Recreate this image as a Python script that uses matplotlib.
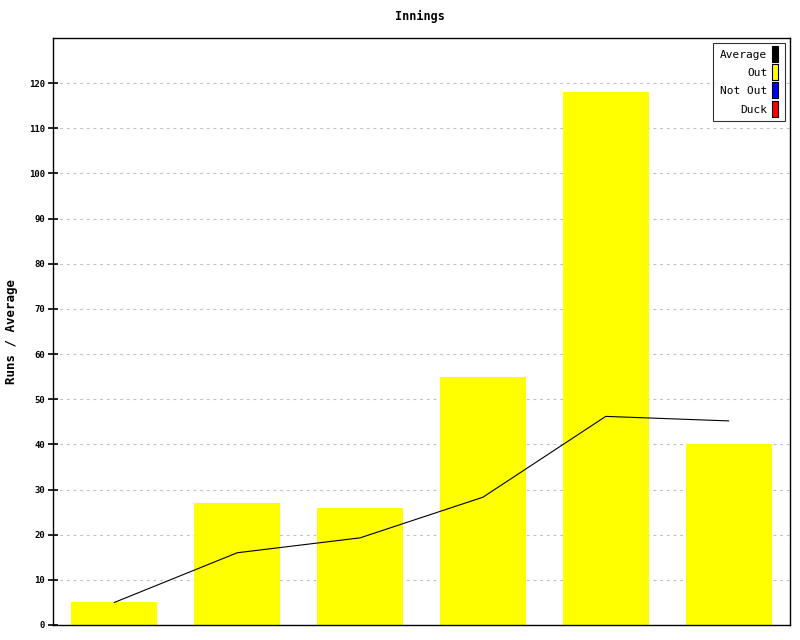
import matplotlib
matplotlib.use('Agg')
import matplotlib.pyplot as plt
from matplotlib.lines import Line2D

# innings data
innings = [1, 2, 3, 4, 5, 6]
runs = [5, 27, 26, 55, 118, 40]
average = [5, 16, 19.3, 28.3, 46.2, 45.2]
yticks = list(range(0, 130, 10))

plt.rcParams['font.family'] = 'DejaVu Sans Mono'

fig = plt.figure(figsize=(8, 6.4), dpi=100)
ax = fig.add_axes([53 / 800, 15 / 640, 737 / 800, 587 / 640])

xs = range(len(innings))
ax.bar(xs, runs, width=0.7, color='#ffff00', zorder=2)
ax.plot(xs, average, color='black', lw=0.8, zorder=3)

ax.set_xlim(-0.5, len(innings) - 0.5)
ax.set_ylim(0, 130)
ax.set_yticks(yticks)
ax.set_yticklabels([str(t) for t in yticks], fontsize=6.5, fontweight='bold')
ax.set_xticks([])
ax.tick_params(axis='y', direction='inout', length=7, width=1.2, pad=2)
ax.grid(axis='y', color='#c0c0c0', linestyle=(0, (2.5, 3.5)), lw=0.8, zorder=1)
for s in ax.spines.values():
    s.set_linewidth(1)

ax.set_ylabel('Runs / Average', fontsize=9, fontweight='bold', labelpad=8)
fig.text(0.525, 1 - 16 / 640, 'Innings', ha='center', va='center',
         fontsize=8.5, fontweight='bold')

# legend swatches: tall boxes to the right of the labels
box = [(-0.45, -1), (0.45, -1), (0.45, 1), (-0.45, 1), (-0.45, -1)]
handles = [Line2D([], [], ls='none', marker=box, markersize=11, markerfacecolor=c,
                  markeredgecolor='black', markeredgewidth=0.8)
           for c in ['black', '#ffff00', '#0000ff', '#ff0000']]
leg = ax.legend(handles, ['Average', 'Out', 'Not Out', 'Duck'], loc='upper right',
                bbox_to_anchor=(785 / 800, 1 - 43 / 640), bbox_transform=fig.transFigure,
                markerfirst=False, fontsize=8, frameon=True, fancybox=False,
                borderpad=0.6, labelspacing=0.75, handlelength=0.6, handletextpad=0.4,
                borderaxespad=0)
leg.get_frame().set_edgecolor('black')
leg.get_frame().set_linewidth(0.8)
for t in leg.get_texts():
    t.set_ha('right')

fig.savefig('out.png', dpi=100)
